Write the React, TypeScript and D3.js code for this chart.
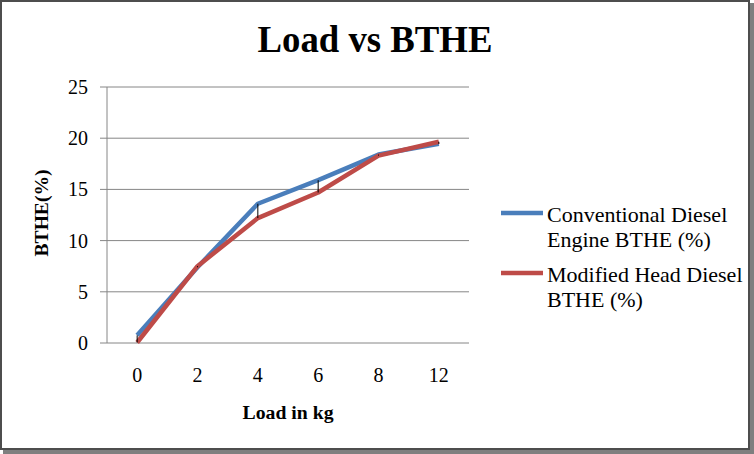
import React from "react";
import * as d3 from "d3";

const categories = ["0", "2", "4", "6", "8", "12"];
const conventional = [0.75, 7.4, 13.6, 15.9, 18.4, 19.45];
const modified = [0.05, 7.5, 12.2, 14.7, 18.3, 19.65];
const yTicks = [0, 5, 10, 15, 20, 25];
const seriesNames = [
  ["Conventional Diesel", "Engine BTHE (%)"],
  ["Modified Head Diesel", "BTHE (%)"],
];
const colors = ["#4a7ebb", "#be4b48"];

const W = 754;
const H = 454;
const FONT = "'Liberation Serif', 'Times New Roman', serif";

export default function App() {
  const left = 107, right = 469, top = 87, bottom = 343;
  const x = d3.scalePoint<string>().domain(categories).range([left, right]).padding(0.5);
  const y = d3.scaleLinear().domain([0, 25]).range([bottom, top]);
  const line = d3
    .line<number>()
    .x((_, i) => x(categories[i]) as number)
    .y((d) => y(d));
  const series = [conventional, modified];

  return (
    <div style={{ position: "fixed", left: 0, top: 0 }}>
      <svg width={W} height={H} style={{ display: "block", background: "#fff" }}>
        <rect x={0} y={0} width={W} height={H} fill="#fff" />
        <rect x={750} y={3} width={4} height={451} fill="#7f7f7f" />
        <rect x={3} y={450} width={751} height={4} fill="#7f7f7f" />
        <rect x={1} y={1} width={748} height={448} fill="none" stroke="#4d4d4d" strokeWidth={2} />

        <text
          x={375}
          y={52}
          textAnchor="middle"
          fontFamily={FONT}
          fontWeight="bold"
          fontSize={38}
          textLength={235}
          lengthAdjust="spacingAndGlyphs"
        >
          Load vs BTHE
        </text>

        {yTicks.map((t) => (
          <line key={"g" + t} x1={left} x2={right} y1={y(t)} y2={y(t)} stroke="#868686" strokeWidth={1} />
        ))}
        <line x1={left} x2={left} y1={top} y2={bottom} stroke="#868686" strokeWidth={1} />
        {yTicks.map((t) => (
          <line key={"t" + t} x1={100} x2={left} y1={y(t)} y2={y(t)} stroke="#868686" strokeWidth={1} />
        ))}
        {yTicks.map((t) => (
          <text key={"l" + t} x={88} y={y(t) + 7} textAnchor="end" fontFamily={FONT} fontSize={20}>
            {t}
          </text>
        ))}
        {categories.map((c) => (
          <text key={"c" + c} x={x(c)} y={382} textAnchor="middle" fontFamily={FONT} fontSize={20}>
            {c}
          </text>
        ))}

        <text
          x={288}
          y={419}
          textAnchor="middle"
          fontFamily={FONT}
          fontWeight="bold"
          fontSize={18}
          textLength={91}
          lengthAdjust="spacingAndGlyphs"
        >
          Load in kg
        </text>
        <text
          transform="translate(48,213) rotate(-90)"
          textAnchor="middle"
          fontFamily={FONT}
          fontWeight="bold"
          fontSize={19}
          textLength={87}
          lengthAdjust="spacingAndGlyphs"
        >
          BTHE(%)
        </text>

        {series.map((s, i) => (
          <path key={"s" + i} d={line(s) as string} fill="none" stroke={colors[i]} strokeWidth={4.5} strokeLinejoin="round" />
        ))}
        {categories.map((c, i) => (
          <line
            key={"hl" + c}
            x1={x(c)}
            x2={x(c)}
            y1={y(Math.max(conventional[i], modified[i]))}
            y2={y(Math.min(conventional[i], modified[i]))}
            stroke="#000"
            strokeWidth={1}
          />
        ))}

        {seriesNames.map((names, i) => {
          const ly = i === 0 ? 213 : 273;
          return (
            <g key={"lg" + i}>
              <line x1={501} x2={543} y1={ly} y2={ly} stroke={colors[i]} strokeWidth={4.5} />
              {names.map((n, j) => (
                <text key={j} x={547} y={ly + 9 + j * 25} fontFamily={FONT} fontSize={22}>
                  {n}
                </text>
              ))}
            </g>
          );
        })}
      </svg>
    </div>
  );
}
